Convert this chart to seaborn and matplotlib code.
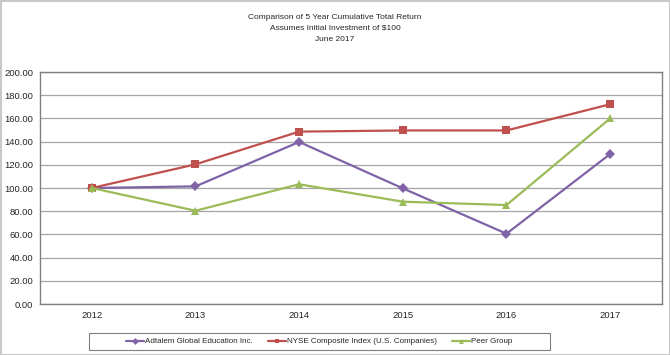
import matplotlib
matplotlib.use("Agg")
import matplotlib.pyplot as plt
import seaborn as sns
import pandas as pd
from matplotlib.patches import Rectangle

years = [2012, 2013, 2014, 2015, 2016, 2017]
adtalem = [100.0, 101.4, 139.7, 99.7, 60.6, 129.3]
nyse = [100.0, 120.4, 148.6, 149.6, 149.6, 172.2]
peer = [100.0, 80.4, 103.2, 88.2, 85.3, 160.0]
series_names = ["Adtalem Global Education Inc.", "NYSE Composite Index (U.S. Companies)", "Peer Group"]
colors = ["#7F63A6", "#C0504D", "#9BBB59"]
markers = ["D", "s", "^"]
title_lines = ["Comparison of 5 Year Cumulative Total Return",
               "Assumes Initial Investment of $100", "June 2017"]

rows = []
for name, vals in zip(series_names, [adtalem, nyse, peer]):
    for y, v in zip(years, vals):
        rows.append({"Year": y, "Value": v, "Series": name})
df = pd.DataFrame(rows)

sns.set_style("white")
plt.rcParams["font.family"] = ["Liberation Sans", "DejaVu Sans"]

fig = plt.figure(figsize=(6.7, 3.55), dpi=100)
ax = fig.add_axes([40/670, 1-304/355, 622/670, 232/355])

sns.lineplot(data=df, x="Year", y="Value", hue="Series", style="Series",
             palette=dict(zip(series_names, colors)),
             markers=dict(zip(series_names, markers)),
             dashes=False, markersize=5.5, markeredgewidth=0, linewidth=1.6,
             ax=ax, legend=False)

ax.set_xlim(2011.5, 2017.5)
ax.set_ylim(0, 200)
ax.set_xticks(years)
ax.set_xticklabels([str(y) for y in years], fontsize=6.8)
ax.set_yticks(range(0, 201, 20))
ax.set_yticklabels([f"{v:.2f}" for v in range(0, 201, 20)], fontsize=6.8)
ax.set_xlabel("")
ax.set_ylabel("")
ax.grid(axis="y", color="#a6a6a6", linewidth=0.9)
ax.set_axisbelow(True)
for s in ax.spines.values():
    s.set_color("#808080")
    s.set_linewidth(1.0)
ax.tick_params(axis="y", length=3, color="#808080", pad=2)
ax.tick_params(axis="x", length=2, direction="in", color="#a0a0a0", pad=5)

for i, line in enumerate(title_lines):
    fig.text(0.5, 1 - (17.5 + 11 * i) / 355, line, ha="center", va="center", fontsize=6.0)

handles = [plt.Line2D([], [], color=c, marker=m, markersize=3.5, markeredgewidth=0, linewidth=1.6)
           for c, m in zip(colors, markers)]
leg = fig.legend(handles, series_names, loc="center", bbox_to_anchor=(319.5/670, 1-341.5/355),
                 ncol=3, frameon=False, handlelength=2.2,
                 handletextpad=0.15, columnspacing=1.9, borderpad=0.2, fontsize=5.8)

fig.patches.append(Rectangle((89/670, 1-350/355), 461/670, 17/355, transform=fig.transFigure,
                             fill=False, edgecolor="#808080", linewidth=0.8))
fig.patches.append(Rectangle((0.5/670, 0.5/355), 669/670, 354/355, transform=fig.transFigure,
                             fill=False, edgecolor="#c8c8c8", linewidth=1.5))

fig.savefig("out.png", dpi=100)
